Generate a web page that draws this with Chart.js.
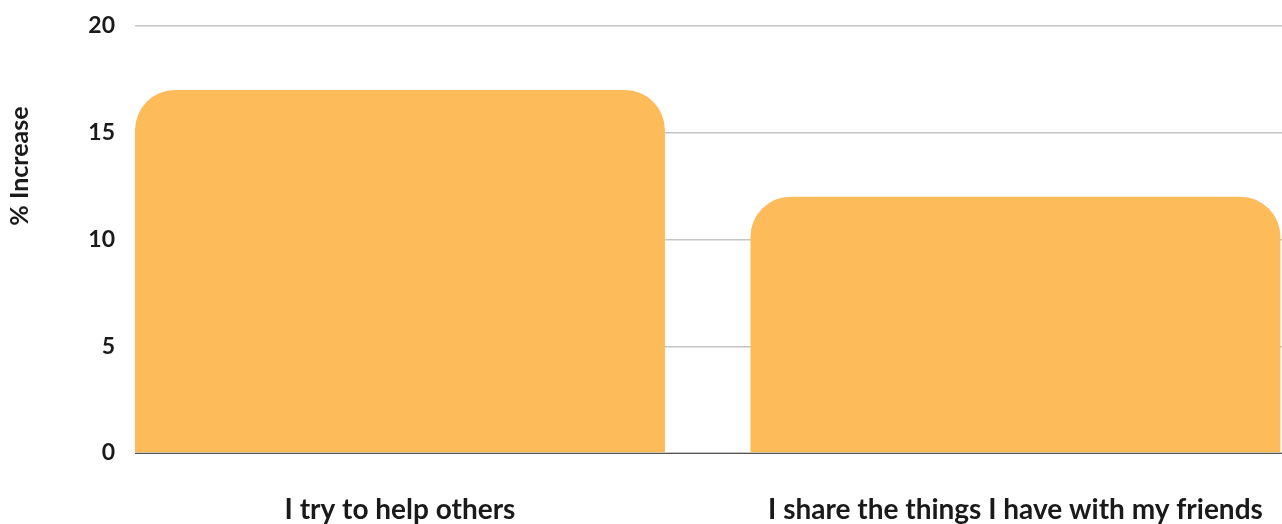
<!DOCTYPE html>
<html>
<head>
<meta charset="utf-8">
<script src="https://cdn.jsdelivr.net/npm/chart.js@4/dist/chart.umd.min.js"></script>
<style>
  html, body { margin: 0; padding: 0; background: #ffffff; overflow: hidden; }
  #wrap { width: 1282px; height: 524px; }
</style>
</head>
<body>
<div id="wrap"><canvas id="c" width="1282" height="524"></canvas></div>
<script>
const categories = ["I try to help others", "I share the things I have with my friends"];
const values = [17, 12];
const yTicks = [0, 5, 10, 15, 20];
const yTitle = "% Increase";

const FONT = "Lato, 'Open Sans', sans-serif";
const TEXT = "#1a1a1a";

const yTitlePlugin = {
  id: "yTitlePlugin",
  afterDraw(chart) {
    const ctx = chart.ctx;
    ctx.save();
    ctx.translate(20, 166);
    ctx.rotate(-Math.PI / 2);
    ctx.font = "bold 25px " + FONT;
    ctx.fillStyle = TEXT;
    ctx.textAlign = "center";
    ctx.textBaseline = "middle";
    ctx.fillText(yTitle, 0, 0);
    ctx.restore();
  }
};

new Chart(document.getElementById("c"), {
  type: "bar",
  data: {
    datasets: [{
      data: categories.map((c, i) => ({ x: i, y: values[i] })),
      backgroundColor: "#FDBB5A",
      borderWidth: 0,
      borderRadius: { topLeft: 40, topRight: 40, bottomLeft: 0, bottomRight: 0 },
      borderSkipped: false,
      categoryPercentage: 1,
      barPercentage: 0.861
    }]
  },
  options: {
    responsive: false,
    animation: false,
    layout: { padding: { top: 26, right: 0, bottom: 0, left: 0 } },
    plugins: { legend: { display: false }, tooltip: { enabled: false } },
    scales: {
      x: {
        type: "linear",
        min: -0.4305,
        max: 1.4331,
        offset: false,
        afterBuildTicks: (s) => { s.ticks = categories.map((_, i) => ({ value: i })); },
        afterFit: (s) => { s.height = 71; s.paddingLeft = 0; s.paddingRight = 0; },
        grid: { display: false, drawTicks: false },
        border: { display: true, color: "#555555", width: 1 },
        ticks: {
          padding: 40,
          maxRotation: 0,
          autoSkip: false,
          color: TEXT,
          font: { family: FONT, size: 28, weight: "bold" },
          callback: (v) => categories[v] !== undefined ? categories[v] : ""
        }
      },
      y: {
        min: 0,
        max: 20,
        afterBuildTicks: (s) => { s.ticks = yTicks.map(v => ({ value: v })); },
        afterFit: (s) => { s.width = 135; s.paddingTop = 0; s.paddingBottom = 0; },
        grid: { color: "#c4c4c4", lineWidth: 1.5, drawTicks: false },
        border: { display: false },
        ticks: {
          padding: 20,
          color: TEXT,
          font: { family: FONT, size: 23, weight: "bold" }
        }
      }
    }
  },
  plugins: [yTitlePlugin]
});
</script>
</body>
</html>
